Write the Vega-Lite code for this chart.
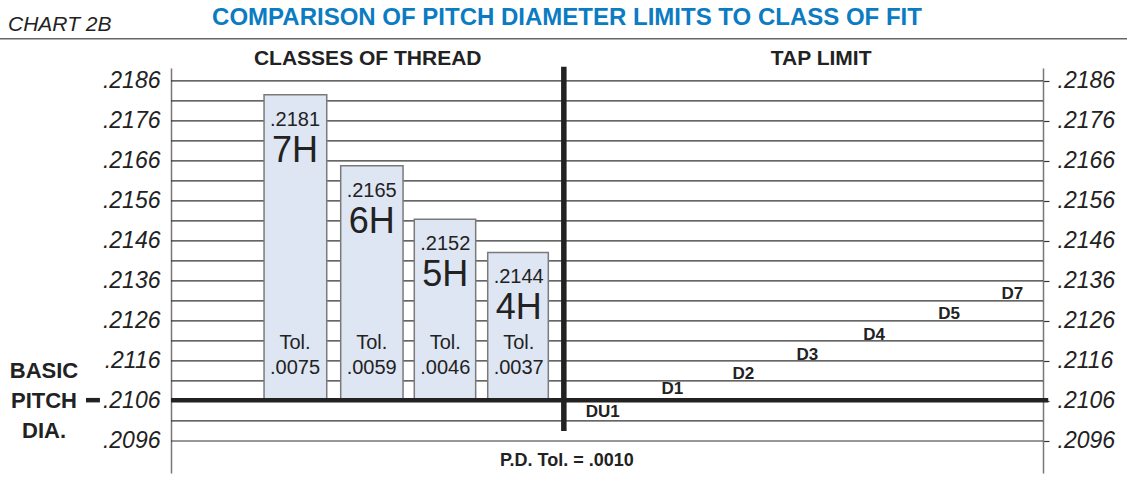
{
  "$schema": "https://vega.github.io/schema/vega-lite/v6.json",
  "width": 872,
  "height": 405,
  "autosize": {"type": "none"},
  "padding": {"left": 171, "top": 68, "right": 84, "bottom": 6},
  "background": "white",
  "config": {"view": {"stroke": null}, "font": "Liberation Sans"},
  "title": {
    "text": "COMPARISON OF PITCH DIAMETER LIMITS TO CLASS OF FIT",
    "color": "#0b7bc2",
    "font": "Liberation Sans",
    "fontSize": 24,
    "fontWeight": "bold",
    "anchor": "middle",
    "frame": "group",
    "dx": -40,
    "offset": -16
  },
  "datasets": {
    "grid": [
      {"v": 0.2096}, {"v": 0.2101}, {"v": 0.2106}, {"v": 0.2111}, {"v": 0.2116},
      {"v": 0.2121}, {"v": 0.2126}, {"v": 0.2131}, {"v": 0.2136}, {"v": 0.2141},
      {"v": 0.2146}, {"v": 0.2151}, {"v": 0.2156}, {"v": 0.2161}, {"v": 0.2166},
      {"v": 0.2171}, {"v": 0.2176}, {"v": 0.2181}, {"v": 0.2186}
    ],
    "classes": [
      {"cls": "7H", "x1": 10.67, "x2": 17.86, "top": 0.21825, "base": 0.2106, "lim": ".2181", "tol": ".0075"},
      {"cls": "6H", "x1": 19.46, "x2": 26.61, "top": 0.21648, "base": 0.2106, "lim": ".2165", "tol": ".0059"},
      {"cls": "5H", "x1": 27.9, "x2": 34.94, "top": 0.21514, "base": 0.2106, "lim": ".2152", "tol": ".0046"},
      {"cls": "4H", "x1": 36.32, "x2": 43.27, "top": 0.21431, "base": 0.2106, "lim": ".2144", "tol": ".0037"}
    ],
    "taps": [
      {"tap": "DU1", "pos": 49.5, "val": 0.21032},
      {"tap": "D1", "pos": 57.49, "val": 0.21089},
      {"tap": "D2", "pos": 65.63, "val": 0.21127},
      {"tap": "D3", "pos": 72.97, "val": 0.21175},
      {"tap": "D4", "pos": 80.62, "val": 0.21224},
      {"tap": "D5", "pos": 89.22, "val": 0.21277},
      {"tap": "D7", "pos": 96.48, "val": 0.21327}
    ]
  },
  "layer": [
    {
      "data": {"name": "grid"},
      "mark": {"type": "rule", "color": "#333", "strokeWidth": 1.2},
      "encoding": {
        "y": {
          "field": "v", "type": "quantitative",
          "scale": {"domain": [0.2088, 0.21892], "nice": false, "zero": false},
          "axis": {
            "orient": "left",
            "values": [0.2096, 0.2106, 0.2116, 0.2126, 0.2136, 0.2146, 0.2156, 0.2166, 0.2176, 0.2186],
            "labelExpr": "replace(format(datum.value, '.4f'), '0.', '.')",
            "labelFont": "Liberation Sans", "labelFontStyle": "italic", "labelFontSize": 23,
            "labelColor": "#222", "labelPadding": 11, "labelFlush": false, "labelOverlap": false,
            "ticks": false, "grid": false, "domainColor": "#777", "domainWidth": 1.5,
            "title": ["BASIC", "PITCH", "DIA."],
            "titleAngle": 0, "titleX": -127.5, "titleY": 309, "titleAlign": "center",
            "titleBaseline": "alphabetic", "titleFont": "Liberation Sans", "titleFontSize": 22,
            "titleFontWeight": "bold", "titleColor": "#222", "titleLineHeight": 30
          }
        }
      }
    },
    {
      "data": {"name": "classes"},
      "mark": {"type": "rect", "fill": "#dee5f3", "stroke": "#7a7a7a", "strokeWidth": 1.5},
      "encoding": {
        "x": {
          "field": "x1", "type": "quantitative",
          "scale": {"domain": [0, 100], "nice": false, "zero": false},
          "axis": {
            "orient": "top", "values": [22.5, 74.5],
            "labelExpr": "datum.value < 50 ? 'CLASSES OF THREAD' : 'TAP LIMIT'",
            "domain": false, "ticks": false, "grid": false,
            "labelFont": "Liberation Sans", "labelFontSize": 21, "labelFontWeight": "bold",
            "labelColor": "#222", "labelPadding": 4, "labelBaseline": "alphabetic",
            "labelLimit": 500,
            "labelFlush": false, "labelOverlap": false, "title": null
          }
        },
        "x2": {"field": "x2"},
        "y": {
          "field": "top", "type": "quantitative",
          "scale": {"domain": [0.2088, 0.21892], "nice": false, "zero": false},
          "axis": {
            "orient": "right",
            "values": [0.2096, 0.2106, 0.2116, 0.2126, 0.2136, 0.2146, 0.2156, 0.2166, 0.2176, 0.2186],
            "labelExpr": "replace(format(datum.value, '.4f'), '0.', '.')",
            "labelFont": "Liberation Sans", "labelFontStyle": "italic", "labelFontSize": 23,
            "labelColor": "#222", "labelPadding": 8, "labelFlush": false, "labelOverlap": false,
            "ticks": true, "tickSize": 6, "tickColor": "#333", "tickWidth": 1.2,
            "grid": false, "domainColor": "#777", "domainWidth": 1.5, "title": null
          }
        },
        "y2": {"field": "base"}
      }
    },
    {
      "data": {"values": [{}]},
      "mark": {"type": "rule", "color": "#222", "strokeWidth": 4.5},
      "encoding": {
        "x": {"datum": 0, "type": "quantitative", "axis": null},
        "x2": {"datum": 100.6},
        "y": {"datum": 0.21062, "type": "quantitative", "axis": null}
      }
    },
    {
      "data": {"values": [{}]},
      "mark": {"type": "rule", "color": "#222", "strokeWidth": 5.5},
      "encoding": {
        "x": {"datum": 45.05, "type": "quantitative", "axis": null},
        "y": {"datum": 0.20985, "type": "quantitative", "axis": null},
        "y2": {"datum": 0.21895}
      }
    },
    {
      "data": {"values": [{}]},
      "mark": {"type": "rule", "color": "#222", "strokeWidth": 4.5},
      "encoding": {
        "x": {"datum": -9.75, "type": "quantitative", "axis": null},
        "x2": {"datum": -8.15},
        "y": {"datum": 0.21062, "type": "quantitative", "axis": null}
      }
    },
    {
      "data": {"values": [{}]},
      "mark": {"type": "rule", "color": "#666", "strokeWidth": 1.5},
      "encoding": {
        "x": {"datum": -19.7, "type": "quantitative", "axis": null},
        "x2": {"datum": 109.7},
        "y": {"datum": 0.21965, "type": "quantitative", "axis": null}
      }
    },
    {
      "data": {"name": "classes"},
      "mark": {"type": "text", "align": "center", "baseline": "middle", "dx": 31, "dy": 25, "fontSize": 20, "color": "#222"},
      "encoding": {
        "x": {"field": "x1", "type": "quantitative", "axis": null},
        "y": {"field": "top", "type": "quantitative", "axis": null},
        "text": {"field": "lim"}
      }
    },
    {
      "data": {"name": "classes"},
      "mark": {"type": "text", "align": "center", "baseline": "middle", "dx": 31, "dy": 56, "fontSize": 36, "color": "#222"},
      "encoding": {
        "x": {"field": "x1", "type": "quantitative", "axis": null},
        "y": {"field": "top", "type": "quantitative", "axis": null},
        "text": {"field": "cls"}
      }
    },
    {
      "data": {"name": "classes"},
      "mark": {"type": "text", "align": "center", "baseline": "middle", "dx": 31, "dy": -58, "fontSize": 20, "color": "#222"},
      "encoding": {
        "x": {"field": "x1", "type": "quantitative", "axis": null},
        "y": {"field": "base", "type": "quantitative", "axis": null},
        "text": {"value": "Tol."}
      }
    },
    {
      "data": {"name": "classes"},
      "mark": {"type": "text", "align": "center", "baseline": "middle", "dx": 31, "dy": -33, "fontSize": 20, "color": "#222"},
      "encoding": {
        "x": {"field": "x1", "type": "quantitative", "axis": null},
        "y": {"field": "base", "type": "quantitative", "axis": null},
        "text": {"field": "tol"}
      }
    },
    {
      "data": {"name": "taps"},
      "mark": {"type": "text", "align": "center", "baseline": "middle", "fontSize": 17, "fontWeight": "bold", "color": "#222"},
      "encoding": {
        "x": {"field": "pos", "type": "quantitative", "axis": null},
        "y": {"field": "val", "type": "quantitative", "axis": null},
        "text": {"field": "tap"}
      }
    },
    {
      "data": {"values": [{}]},
      "mark": {"type": "text", "align": "center", "baseline": "middle", "fontSize": 18, "fontWeight": "bold", "color": "#222"},
      "encoding": {
        "x": {"datum": 45.4, "type": "quantitative", "axis": null},
        "y": {"datum": 0.20911, "type": "quantitative", "axis": null},
        "text": {"value": "P.D. Tol. = .0010"}
      }
    },
    {
      "data": {"values": [{}]},
      "mark": {"type": "text", "align": "left", "baseline": "middle", "fontSize": 21, "fontStyle": "italic", "color": "#222"},
      "encoding": {
        "x": {"datum": -18.69, "type": "quantitative", "axis": null},
        "y": {"datum": 0.21999, "type": "quantitative", "axis": null},
        "text": {"value": "CHART 2B"}
      }
    }
  ],
  "resolve": {"axis": {"y": "independent", "x": "independent"}}
}
